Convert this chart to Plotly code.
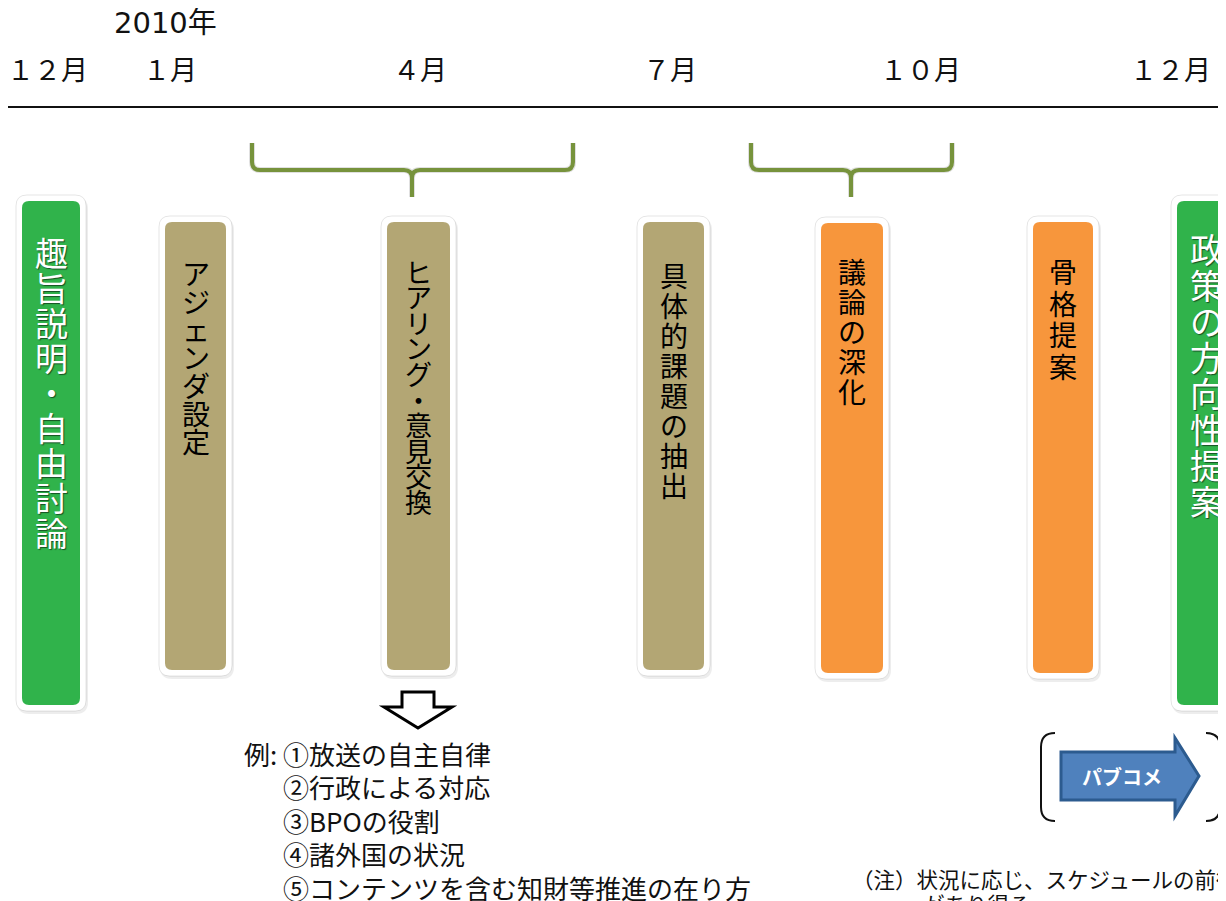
import plotly.graph_objects as go

# ---------------- data ----------------
year_label = "2010年"
month_labels = ["１２月", "１月", "４月", "７月", "１０月", "１２月"]

stage_labels = [
    "趣旨説明・自由討論",
    "アジェンダ設定",
    "ヒアリング・意見交換",
    "具体的課題の抽出",
    "議論の深化",
    "骨格提案",
    "政策の方向性提案",
]
stage_phase = ["bookend", "study", "study", "study", "draft", "draft", "bookend"]

example_prefix = "例:"
example_items = [
    "①放送の自主自律",
    "②行政による対応",
    "③BPOの役割",
    "④諸外国の状況",
    "⑤コンテンツを含む知財等推進の在り方",
]
pubcom_label = "パブコメ"
note_lines = ["（注）状況に応じ、スケジュールの前後", "があり得る"]

# ---------------- layout / style ----------------
W, H = 1226, 901
OFF = 8  # page body margin compensation
FONT = "Noto Sans CJK JP"
phase_fill = {"bookend": "#30b34b", "study": "#b3a674", "draft": "#f7963c"}
phase_text = {"bookend": "white", "study": "black", "draft": "black"}

month_x = [47, 170, 420, 670, 920, 1170]
# stage boxes: (x0, x1, y0, y1), char font size, first char centre, pitch
stage_box = [
    (22, 80, 201, 705),
    (165, 226, 222, 670),
    (387, 450, 222, 670),
    (643, 704, 222, 670),
    (821, 883, 223, 673),
    (1033, 1093, 222, 673),
    (1177, 1245, 201, 705),
]
stage_font = [33, 28, 27, 28, 28, 28, 34]
stage_first = [252, 273, 271, 275, 271, 271, 248]
stage_pitch = [35, 28, 25.6, 30, 30, 31.5, 36]

brackets = [(252, 573, 412), (751, 952, 851)]


def rrect(x0, x1, y0, y1, r):
    return (f"M{x0+r},{y0} L{x1-r},{y0} Q{x1},{y0} {x1},{y0+r} "
            f"L{x1},{y1-r} Q{x1},{y1} {x1-r},{y1} L{x0+r},{y1} "
            f"Q{x0},{y1} {x0},{y1-r} L{x0},{y0+r} Q{x0},{y0} {x0+r},{y0} Z")


shapes = []
annotations = []

# header
annotations.append(dict(x=112, y=23, text=year_label, xanchor="left", yanchor="middle",
                        showarrow=False,
                        font=dict(family="DejaVu Sans, " + FONT, size=29, color="#111")))
for lbl, mx in zip(month_labels, month_x):
    annotations.append(dict(x=mx, y=68, text=lbl, xanchor="center", yanchor="middle",
                            showarrow=False, font=dict(family=FONT, size=27, color="#111")))
shapes.append(dict(type="line", x0=0, x1=W + OFF, y0=107, y1=107,
                   line=dict(color="#111", width=2)))

# brackets
for bx0, bx1, bc in brackets:
    top, hy, bot, r = 143, 170, 197, 8
    p = (f"M{bx0},{top} L{bx0},{hy-r} Q{bx0},{hy} {bx0+r},{hy} L{bc-r},{hy} "
         f"Q{bc},{hy} {bc},{hy+r} L{bc},{bot} M{bc},{hy+r} Q{bc},{hy} {bc+r},{hy} "
         f"L{bx1-r},{hy} Q{bx1},{hy} {bx1},{hy-r} L{bx1},{top}")
    shapes.append(dict(type="path", path=p, line=dict(color="rgba(0,0,0,0.12)", width=6)))
    shapes.append(dict(type="path", path=p, line=dict(color="#77933c", width=4)))

# stage boxes
for i, lbl in enumerate(stage_labels):
    x0, x1, y0, y1 = stage_box[i]
    ph = stage_phase[i]
    shapes.append(dict(type="path", path=rrect(x0 - 5, x1 + 8, y0 - 4, y1 + 9, 12),
                       fillcolor="rgba(0,0,0,0.07)", line=dict(width=0)))
    shapes.append(dict(type="path", path=rrect(x0 - 6, x1 + 6, y0 - 6, y1 + 6, 11),
                       fillcolor="white", line=dict(color="rgba(0,0,0,0.10)", width=1)))
    shapes.append(dict(type="path", path=rrect(x0, x1, y0, y1, 7),
                       fillcolor=phase_fill[ph], line=dict(width=0)))
    cx = (x0 + x1) / 2 if x1 < W else 1207
    for k, ch in enumerate(lbl):
        f = dict(family=FONT, size=stage_font[i], color=phase_text[ph])
        if ph == "bookend":
            f["shadow"] = "1px 1px 1px rgba(0,0,0,0.55)"
        annotations.append(dict(x=cx, y=stage_first[i] + k * stage_pitch[i], text=ch,
                                xanchor="center", yanchor="middle", showarrow=False, font=f))

# hollow down arrow
shapes.append(dict(type="path",
                   path="M402,692 L434,692 L434,707 L452,707 L418,728 L384,707 L402,707 Z",
                   fillcolor="white", line=dict(color="#000", width=3)))

# examples
ex_y0, ex_pitch = 753, 33.5
annotations.append(dict(x=242, y=ex_y0, text=example_prefix, xanchor="left", yanchor="middle",
                        showarrow=False, font=dict(family=FONT, size=26, color="#111")))
for k, item in enumerate(example_items):
    annotations.append(dict(x=281, y=ex_y0 + k * ex_pitch, text=item, xanchor="left",
                            yanchor="middle", showarrow=False,
                            font=dict(family=FONT, size=26, color="#111")))

# pub-comment arrow with parentheses
shapes.append(dict(type="path",
                   path="M1055,733 Q1041,733 1041,747 L1041,807 Q1041,821 1055,821",
                   line=dict(color="#111", width=2)))
shapes.append(dict(type="path",
                   path="M1206,733 Q1220,733 1220,747 L1220,807 Q1220,821 1206,821",
                   line=dict(color="#111", width=2)))
shapes.append(dict(type="path",
                   path="M1061,752 L1175,752 L1175,738 L1199,776 L1175,816 L1175,800 L1061,800 Z",
                   fillcolor="#4f81bd", line=dict(color="#2c5b8f", width=3)))
annotations.append(dict(x=1122, y=776, text=f"<b>{pubcom_label}</b>", xanchor="center",
                        yanchor="middle", showarrow=False,
                        font=dict(family=FONT, size=20, color="white")))

# note
annotations.append(dict(x=850, y=878, text=note_lines[0], xanchor="left", yanchor="middle",
                        showarrow=False, font=dict(family=FONT, size=21.5, color="#111")))
annotations.append(dict(x=921, y=903, text=note_lines[1], xanchor="left", yanchor="middle",
                        showarrow=False, font=dict(family=FONT, size=21.5, color="#111")))

fig = go.Figure()
fig.add_trace(go.Scatter(x=[OFF, W + OFF], y=[OFF, H + OFF], mode="markers",
                         marker=dict(opacity=0), hoverinfo="skip", showlegend=False))
fig.update_layout(
    width=W, height=H, margin=dict(l=0, r=0, t=0, b=0),
    paper_bgcolor="white", plot_bgcolor="white",
    xaxis=dict(range=[OFF, W + OFF], visible=False, fixedrange=True),
    yaxis=dict(range=[H + OFF, OFF], visible=False, fixedrange=True),
    shapes=shapes, annotations=annotations, showlegend=False,
)
fig.write_html("out.html")
